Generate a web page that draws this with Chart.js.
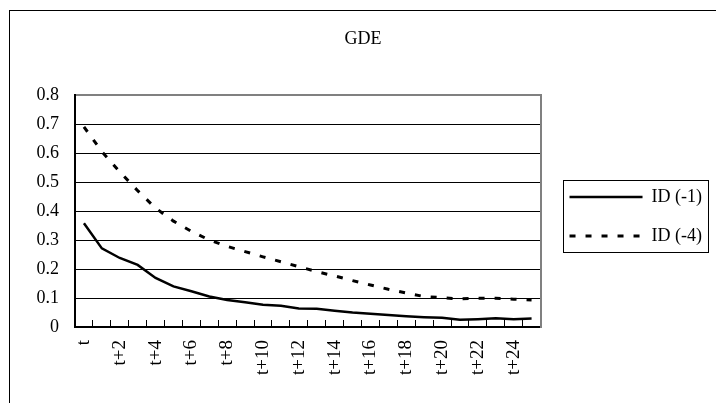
<!DOCTYPE html>
<html>
<head>
<meta charset="utf-8">
<script src="https://cdn.jsdelivr.net/npm/chart.js@4/dist/chart.umd.min.js"></script>
<style>
  html, body { margin: 0; padding: 0; background: #fff; }
  #wrap { width: 716px; height: 403px; position: relative; }
</style>
</head>
<body>
<div id="wrap"><canvas id="c" width="716" height="403"></canvas></div>
<script>
// Periods after the shock
const periods = ['t', 't+1', 't+2', 't+3', 't+4', 't+5', 't+6', 't+7', 't+8', 't+9',
  't+10', 't+11', 't+12', 't+13', 't+14', 't+15', 't+16', 't+17', 't+18', 't+19',
  't+20', 't+21', 't+22', 't+23', 't+24', 't+25'];
// Periods that carry a printed label on the category axis
const labeledPeriods = ['t', 't+2', 't+4', 't+6', 't+8', 't+10', 't+12', 't+14',
  't+16', 't+18', 't+20', 't+22', 't+24'];

// Responses for the two lag specifications
const id1 = [0.358, 0.271, 0.238, 0.214, 0.169, 0.140, 0.123, 0.105, 0.093, 0.085,
  0.077, 0.073, 0.064, 0.063, 0.056, 0.050, 0.046, 0.041, 0.037, 0.034,
  0.032, 0.025, 0.027, 0.030, 0.027, 0.029];
const id4 = [0.690, 0.605, 0.535, 0.470, 0.410, 0.365, 0.330, 0.300, 0.278, 0.260,
  0.242, 0.225, 0.208, 0.191, 0.176, 0.160, 0.145, 0.130, 0.117, 0.105,
  0.101, 0.097, 0.099, 0.099, 0.096, 0.093];

// Value axis
const yTickLabels = ['0', '0.1', '0.2', '0.3', '0.4', '0.5', '0.6', '0.7', '0.8'];

const serif = "'Liberation Serif', 'DejaVu Serif', serif";

// Thin outer frame of the chart sheet
const sheetFrame = {
  id: 'sheetFrame',
  beforeDraw(chart) {
    const ctx = chart.ctx;
    ctx.save();
    ctx.strokeStyle = '#000';
    ctx.lineWidth = 1;
    ctx.strokeRect(9.5, 10.5, chart.width + 20, chart.height + 20);
    ctx.restore();
  }
};

// Box drawn around the legend entries
const legendFrame = {
  id: 'legendFrame',
  afterDraw(chart) {
    const hb = chart.legend && chart.legend.legendHitBoxes;
    if (!hb || !hb.length) return;
    const first = hb[0], last = hb[hb.length - 1];
    const left = Math.round(first.left - 7) + 0.5;
    const top = Math.round(first.top - 8) + 0.5;
    const right = Math.round(Math.max(...hb.map(h => h.left + h.width)) + 6) + 0.5;
    const bottom = Math.round(last.top + last.height + 7) + 0.5;
    const ctx = chart.ctx;
    ctx.save();
    ctx.strokeStyle = '#000';
    ctx.lineWidth = 1;
    ctx.strokeRect(left, top, right - left, bottom - top);
    ctx.restore();
  }
};

// Legend samples keep each series' own stroke width and dash pattern
function lineLegendLabels(chart) {
  const base = Chart.defaults.plugins.legend.labels.generateLabels(chart);
  return base.map(item => {
    const ds = chart.data.datasets[item.datasetIndex];
    return Object.assign({}, item, {
      pointStyle: 'line',
      lineWidth: ds.borderWidth,
      lineDash: ds.borderDash || [],
      strokeStyle: ds.borderColor
    });
  });
}

new Chart(document.getElementById('c'), {
  type: 'line',
  data: {
    labels: periods,
    datasets: [
      {
        label: 'ID (-1)',
        data: id1,
        borderColor: '#000',
        backgroundColor: '#000',
        borderWidth: 2.5,
        pointRadius: 0,
        tension: 0,
        fill: false
      },
      {
        label: 'ID (-4)',
        data: id4,
        borderColor: '#000',
        backgroundColor: '#000',
        borderWidth: 3,
        borderDash: [6, 10],
        pointRadius: 0,
        tension: 0,
        fill: false
      }
    ]
  },
  options: {
    responsive: false,
    animation: false,
    devicePixelRatio: 1,
    layout: { padding: { left: 14, right: 4, top: 0, bottom: 0 } },
    plugins: {
      title: {
        display: true,
        text: 'GDE',
        color: '#000',
        font: { family: serif, size: 18, weight: 'normal', lineHeight: 1.2 },
        padding: { top: 28, bottom: 45.4 }
      },
      legend: {
        position: 'right',
        fullSize: false,
        align: 'center',
        maxWidth: 220,
        title: { display: true, text: '', padding: 0, font: { size: 9, lineHeight: 1.2 } },
        labels: {
          usePointStyle: true,
          pointStyle: 'line',
          pointStyleWidth: 73,
          padding: 21,
          color: '#000',
          font: { family: serif, size: 18 },
          generateLabels: lineLegendLabels
        }
      },
      tooltip: { enabled: false }
    },
    scales: {
      x: {
        offset: true,
        grid: {
          offset: true,
          drawOnChartArea: false,
          drawTicks: true,
          tickLength: -7,
          color: '#000',
          lineWidth: 1
        },
        border: { color: '#000', width: 2 },
        ticks: {
          autoSkip: false,
          minRotation: 90,
          maxRotation: 90,
          padding: 20,
          color: '#000',
          font: { family: serif, size: 19 },
          callback: (v, i) => labeledPeriods.includes(periods[i]) ? periods[i] : ''
        },
        afterFit: s => { s.height = 76; }
      },
      y: {
        min: 0,
        max: 0.8,
        ticks: {
          stepSize: 0.1,
          padding: 16,
          color: '#000',
          font: { family: serif, size: 18 },
          callback: (v, i) => yTickLabels[i]
        },
        grid: {
          drawTicks: false,
          color: c => (c.tick && c.tick.value > 0.79) ? '#808080' : '#000',
          lineWidth: c => (c.tick && c.tick.value > 0.79) ? 2 : 1
        },
        border: { color: '#000', width: 2 },
        afterFit: s => { s.width = 61; }
      },
      yR: {
        position: 'right',
        ticks: { display: false },
        grid: { drawOnChartArea: false, drawTicks: false },
        border: { color: '#808080', width: 2 },
        afterFit: s => { s.width = 8; }
      }
    }
  },
  plugins: [sheetFrame, legendFrame]
});
</script>
</body>
</html>
